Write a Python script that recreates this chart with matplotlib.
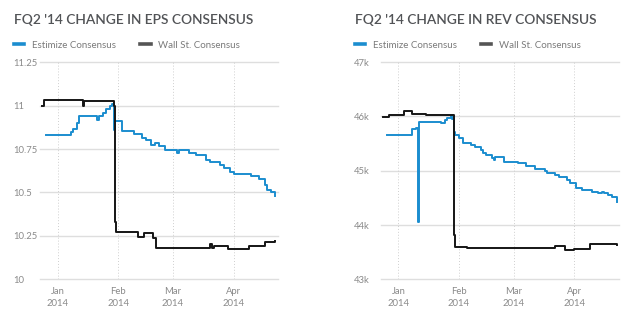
# FQ2 '14 consensus change charts (EPS and revenue), Estimize vs Wall St.
import numpy as np
import pandas as pd
import matplotlib
matplotlib.use('Agg')
import matplotlib.pyplot as plt

plt.rcParams['font.family'] = ['Lato', 'DejaVu Sans']

# ---- data ----
eps_est_dates = ['2013-12-26', '2014-01-08', '2014-01-09', '2014-01-11', '2014-01-12',
                 '2014-01-21', '2014-01-22', '2014-01-24', '2014-01-26', '2014-01-28',
                 '2014-01-29', '2014-01-30 00:00', '2014-01-30 12:00', '2014-02-03',
                 '2014-02-09', '2014-02-13', '2014-02-15', '2014-02-18', '2014-02-20',
                 '2014-02-22', '2014-02-25', '2014-03-03', '2014-03-04', '2014-03-09',
                 '2014-03-13', '2014-03-18', '2014-03-20', '2014-03-25', '2014-03-27',
                 '2014-03-30', '2014-04-01', '2014-04-10', '2014-04-14', '2014-04-17',
                 '2014-04-18', '2014-04-20', '2014-04-22']
eps_est = [10.833, 10.848, 10.866, 10.90, 10.94,
           10.92, 10.94, 10.96, 10.98, 11.0,
           11.01, 10.86, 10.91, 10.852,
           10.838, 10.814, 10.80, 10.775, 10.785,
           10.765, 10.742, 10.73, 10.742, 10.727,
           10.717, 10.688, 10.673, 10.66, 10.64,
           10.62, 10.606, 10.592, 10.577, 10.544,
           10.515, 10.50, 10.48]

eps_ws_dates = ['2013-12-24', '2013-12-25', '2014-01-14 00:00', '2014-01-14 12:00',
                '2014-01-29 18:00', '2014-01-30 10:00', '2014-01-30 18:00', '2014-02-11',
                '2014-02-14', '2014-02-19', '2014-02-20 12:00', '2014-03-20', '2014-03-21',
                '2014-03-22', '2014-03-29', '2014-04-09', '2014-04-17', '2014-04-22']
eps_ws = [11.0, 11.035, 11.0, 11.025,
          11.0, 10.33, 10.27, 10.242,
          10.265, 10.237, 10.182, 10.204, 10.182,
          10.192, 10.173, 10.192, 10.213, 10.22]

rev_est_dates = ['2013-12-26', '2014-01-08', '2014-01-10', '2014-01-11 00:00', '2014-01-11 12:00',
                 '2014-01-23', '2014-01-25', '2014-01-26', '2014-01-28 00:00', '2014-01-28 14:00',
                 '2014-01-29 05:00', '2014-01-30', '2014-02-01', '2014-02-03', '2014-02-07',
                 '2014-02-09', '2014-02-12', '2014-02-13 12:00', '2014-02-15', '2014-02-18 00:00',
                 '2014-02-18 16:00', '2014-02-19 10:00', '2014-02-24', '2014-03-03', '2014-03-07',
                 '2014-03-12', '2014-03-17', '2014-03-18', '2014-03-22', '2014-03-24',
                 '2014-03-28', '2014-03-30', '2014-04-02', '2014-04-05', '2014-04-10',
                 '2014-04-13', '2014-04-15', '2014-04-16', '2014-04-18', '2014-04-20',
                 '2014-04-23']
rev_est = [45.65, 45.765, 45.795, 44.05, 45.89,
           45.88, 45.93, 45.97, 46.02, 45.95,
           45.72, 45.66, 45.60, 45.51, 45.475,
           45.445, 45.385, 45.32, 45.29, 45.23,
           45.20, 45.25, 45.17, 45.14, 45.08,
           45.03, 45.00, 44.955, 44.92, 44.88,
           44.83, 44.77, 44.68, 44.646, 44.615,
           44.585, 44.61, 44.585, 44.55, 44.51,
           44.43]

rev_ws_dates = ['2013-12-24', '2013-12-27', '2014-01-04', '2014-01-08', '2014-01-15',
                '2014-01-29 05:00', '2014-01-30', '2014-02-05', '2014-03-22', '2014-03-27',
                '2014-04-01', '2014-04-09', '2014-04-16', '2014-04-22 18:00']
rev_ws = [45.985, 46.03, 46.10, 46.045, 46.03,
          43.82, 43.60, 43.57, 43.615, 43.54,
          43.565, 43.645, 43.656, 43.63]

titles = ["FQ2 '14 CHANGE IN EPS CONSENSUS", "FQ2 '14 CHANGE IN REV CONSENSUS"]
eps_ticks = [10, 10.25, 10.5, 10.75, 11, 11.25]
eps_labels = ['10', '10.25', '10.5', '10.75', '11', '11.25']
rev_ticks = [43, 44, 45, 46, 47]
rev_labels = ['43k', '44k', '45k', '46k', '47k']
month_ticks = ['2014-01-01', '2014-02-01', '2014-03-01', '2014-04-01']
month_labels = ['Jan\n2014', 'Feb\n2014', 'Mar\n2014', 'Apr\n2014']

BLUE = '#1b8dcf'
BLACK = '#151515'
GRID = '#dedede'
TICK = '#8a8a8a'


def to_dt(lst):
    return pd.to_datetime(lst, format='mixed')


fig = plt.figure(figsize=(6.4, 3.25), dpi=100)
ax1 = fig.add_axes([0.0625, 0.1406, 0.372, 0.668])
ax2 = fig.add_axes([0.595, 0.1406, 0.372, 0.668])

panels = [
    (ax1, eps_est_dates, eps_est, eps_ws_dates, eps_ws, eps_ticks, eps_labels),
    (ax2, rev_est_dates, rev_est, rev_ws_dates, rev_ws, rev_ticks, rev_labels),
]

for ax, ed, ev, wd, wv, yt, yl in panels:
    ax.plot(to_dt(ed), ev, drawstyle='steps-post', color=BLUE, lw=1.4,
            label='Estimize Consensus', zorder=3)
    ax.plot(to_dt(wd), wv, drawstyle='steps-post', color=BLACK, lw=1.4,
            label='Wall St. Consensus', zorder=4)

    ax.set_xlim(pd.Timestamp('2013-12-23'), pd.Timestamp('2014-04-23 18:00'))
    ax.set_ylim(yt[0], yt[-1])
    ax.set_yticks(yt)
    ax.set_yticklabels(yl)
    ax.set_xticks(to_dt(month_ticks))
    ax.set_xticklabels(month_labels)

    # horizontal solid grid, vertical dotted grid
    ax.grid(False)
    for y in yt:
        ax.axhline(y, color=GRID, lw=1.0, zorder=1, clip_on=False)
    for m in month_ticks:
        ax.axvline(pd.Timestamp(m), color='#cfcfcf', lw=0.7, ls=(0, (1, 2)), zorder=1)

    for s in ax.spines.values():
        s.set_visible(False)
    ax.tick_params(axis='both', length=0, colors=TICK, labelsize=6.8)
    ax.tick_params(axis='x', pad=5.5)
    ax.tick_params(axis='y', pad=19.5)
    for t in ax.get_yticklabels():
        t.set_horizontalalignment('left')
    for t in ax.get_xticklabels():
        t.set_linespacing(1.45)

    ax.legend(loc='center left', bbox_to_anchor=(-0.109, 1.078), ncol=2, frameon=False,
              borderpad=0, borderaxespad=0, handlelength=1.05, handletextpad=0.8,
              columnspacing=2.5, fontsize=7.0, labelcolor='#7a7a7a')
    for h in ax.get_legend().legend_handles:
        h.set_linewidth(2.6)
        h.set_color(BLUE if h.get_label() == 'Estimize Consensus' else '#555555')

fig.text(14 / 640, 1 - 20 / 325, titles[0], fontsize=9.9, fontweight='semibold',
         color='#525457', va='center', ha='left')
fig.text(355 / 640, 1 - 20 / 325, titles[1], fontsize=9.9, fontweight='semibold',
         color='#525457', va='center', ha='left')

fig.savefig('out.png', dpi=100)
